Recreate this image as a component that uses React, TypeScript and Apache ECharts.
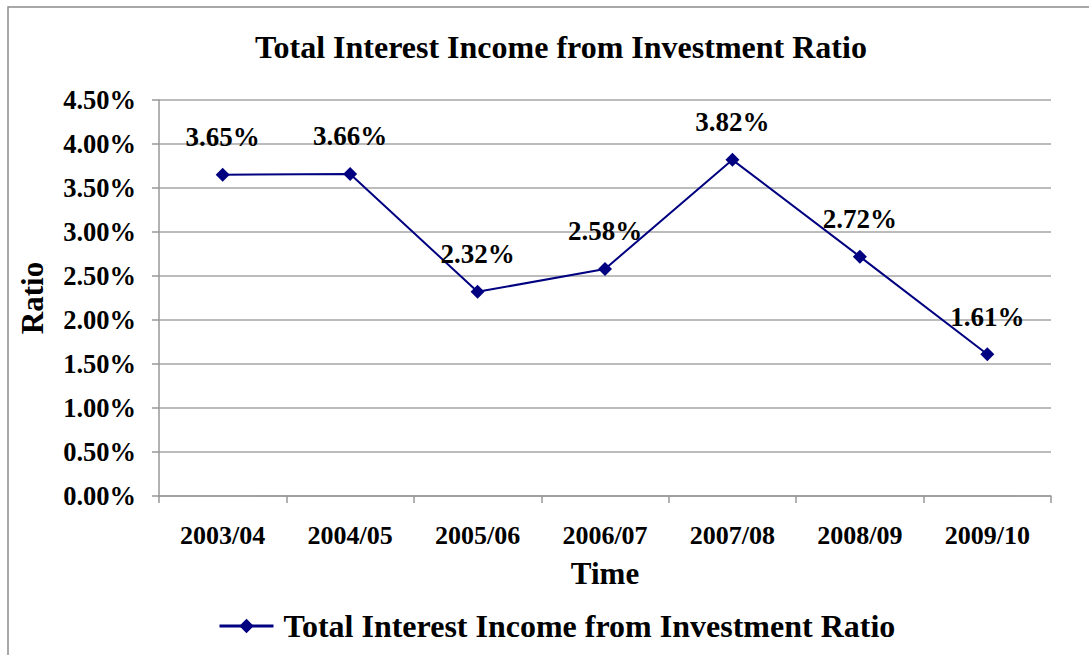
import React, { useEffect, useRef } from "react";
import * as echarts from "echarts";

const categories = ["2003/04", "2004/05", "2005/06", "2006/07", "2007/08", "2008/09", "2009/10"];
const values = [3.65, 3.66, 2.32, 2.58, 3.82, 2.72, 1.61];
const seriesName = "Total Interest Income from Investment Ratio";
const titleText = "Total Interest Income from Investment Ratio";

const FONT = "'Liberation Serif', 'Times New Roman', serif";

export default function App() {
  const ref = useRef<HTMLDivElement>(null);
  useEffect(() => {
    if (!ref.current) return;
    const chart = echarts.init(ref.current, null, { renderer: "svg" });
    chart.setOption({
      animation: false,
      backgroundColor: "#fff",
      graphic: [
        {
          type: "rect",
          shape: { x: 8, y: 7, width: 1200, height: 700 },
          style: { fill: "none", stroke: "#8c8c8c", lineWidth: 1.5 },
          silent: true,
        },
      ],
      title: {
        text: titleText,
        left: 556,
        textAlign: "center",
        top: 26,
        textStyle: { fontFamily: FONT, fontWeight: "bold", fontSize: 32, color: "#000" },
      },
      legend: {
        data: [seriesName],
        left: 218,
        top: 610,
        padding: 0,
        itemWidth: 54,
        itemHeight: 18,
        itemGap: 6,
        lineStyle: { width: 3 },
        textStyle: { fontFamily: FONT, fontWeight: "bold", fontSize: 32, color: "#000", padding: [0, 0, 0, 5] },
      },
      grid: { left: 159, right: 38, top: 100, bottom: 159, containLabel: false },
      xAxis: {
        type: "category",
        data: categories,
        boundaryGap: true,
        name: "Time",
        nameLocation: "middle",
        nameGap: 62,
        nameTextStyle: { fontFamily: FONT, fontWeight: "bold", fontSize: 31, color: "#000" },
        axisLine: { lineStyle: { color: "#999", width: 1.5 } },
        axisTick: { show: true, length: 7, lineStyle: { color: "#999", width: 1.5 } },
        axisLabel: { fontFamily: FONT, fontWeight: "bold", fontSize: 26, color: "#000", margin: 26 },
      },
      yAxis: {
        type: "value",
        min: 0,
        max: 4.5,
        interval: 0.5,
        name: "Ratio",
        nameLocation: "middle",
        nameGap: 111,
        nameTextStyle: { fontFamily: FONT, fontWeight: "bold", fontSize: 31, color: "#000" },
        axisLine: { show: true, lineStyle: { color: "#999", width: 1.5 } },
        axisTick: { show: true, length: 7, lineStyle: { color: "#999", width: 1.5 } },
        axisLabel: {
          fontFamily: FONT,
          fontWeight: "bold",
          fontSize: 26.5,
          color: "#000",
          margin: 23,
          formatter: (v: number) => v.toFixed(2) + "%",
        },
        splitLine: { show: true, lineStyle: { color: "#a6a6a6", width: 1.5 } },
      },
      series: [
        {
          name: seriesName,
          type: "line",
          data: values,
          symbol: "diamond",
          symbolSize: 14,
          itemStyle: { color: "#000080" },
          lineStyle: { color: "#000080", width: 2 },
          label: {
            show: true,
            position: "top",
            distance: 17,
            fontFamily: FONT,
            fontWeight: "bold",
            fontSize: 27,
            color: "#000",
            formatter: (p: any) => Number(p.value).toFixed(2) + "%",
          },
        },
      ],
    });
    return () => chart.dispose();
  }, []);
  return <div ref={ref} style={{ width: 1089, height: 655, position: "absolute", left: 0, top: 0 }} />;
}
